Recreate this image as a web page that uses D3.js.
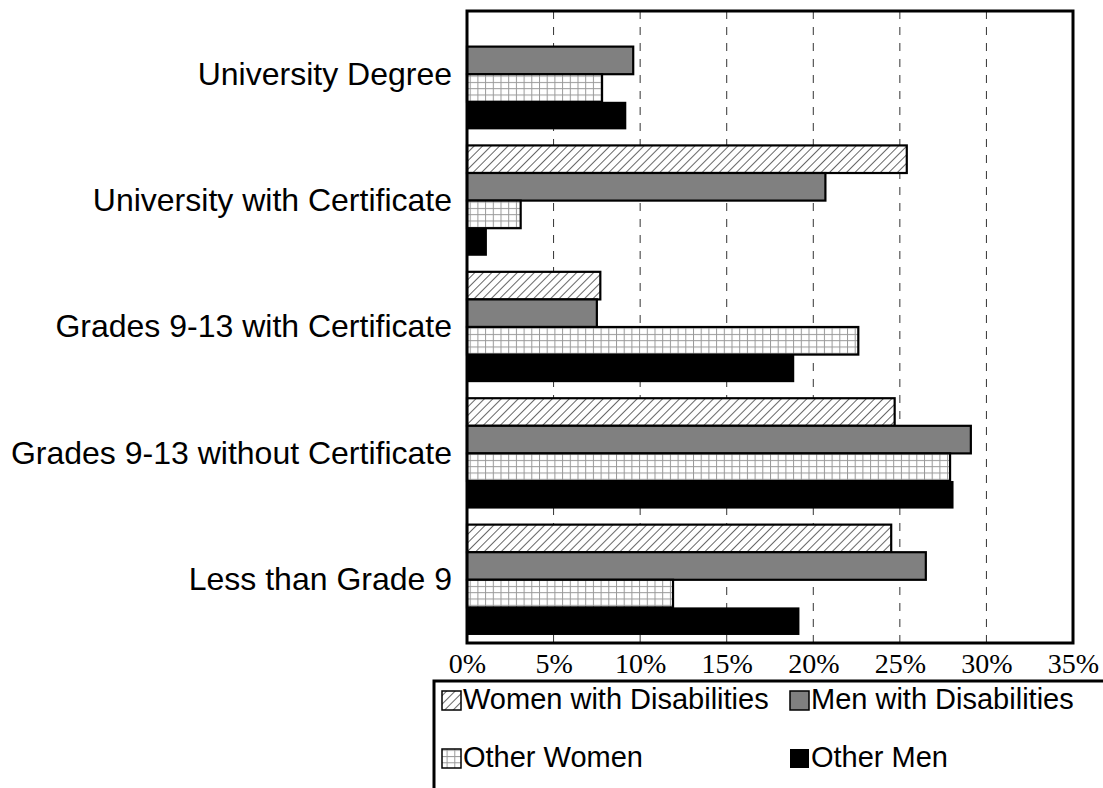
<!DOCTYPE html>
<html><head><meta charset="utf-8">
<script src="https://cdn.jsdelivr.net/npm/d3@7"></script>
<style>body{margin:0;background:#fff}svg{display:block}</style>
</head><body>
<script>
const categories = ["University Degree","University with Certificate","Grades 9-13 with Certificate","Grades 9-13 without Certificate","Less than Grade 9"];
const seriesNames = ["Women with Disabilities","Men with Disabilities","Other Women","Other Men"];
const womenDis = [0, 25.4, 7.7, 24.7, 24.5];
const menDis   = [9.6, 20.7, 7.5, 29.1, 26.5];
const otherWomen = [7.8, 3.1, 22.6, 27.9, 11.9];
const otherMen   = [9.2, 1.15, 18.9, 28.1, 19.2];
const xTicks = [0,5,10,15,20,25,30,35];
const seriesValues = [womenDis, menDis, otherWomen, otherMen];

const W = 1103, H = 788;
const svg = d3.select("body").append("svg").attr("width", W).attr("height", H);
const defs = svg.append("defs");
const hp = defs.append("pattern").attr("id","hatch").attr("patternUnits","userSpaceOnUse").attr("width",6).attr("height",6).attr("patternTransform","rotate(45)");
hp.append("rect").attr("width",6).attr("height",6).attr("fill","#fff");
hp.append("line").attr("x1",0).attr("y1",0).attr("x2",0).attr("y2",6).attr("stroke","#000").attr("stroke-width",1.2);
const cp = defs.append("pattern").attr("id","cross").attr("patternUnits","userSpaceOnUse").attr("width",7.7).attr("height",6.3);
cp.append("rect").attr("width",7.7).attr("height",6.3).attr("fill","#fff");
cp.append("line").attr("x1",0.5).attr("y1",0).attr("x2",0.5).attr("y2",6.3).attr("stroke","#999").attr("stroke-width",1);
cp.append("line").attr("x1",0).attr("y1",0.5).attr("x2",7.7).attr("y2",0.5).attr("stroke","#999").attr("stroke-width",1);

const fills = ["url(#hatch)","#808080","url(#cross)","#000"];
const strokeW = [2.2,2.2,2.2,0];

const L = 467, R = 1073, T = 11, B = 643;
const x = d3.scaleLinear().domain([0,35]).range([L,R]);
const y0 = d3.scaleBand().domain(categories).range([T,B]).paddingInner(0.127).paddingOuter(0.0635);
const y1 = d3.scaleBand().domain(seriesNames).range([0,y0.bandwidth()]);

// grid
svg.append("g").selectAll("line").data(xTicks.filter(t=>t>0&&t<35)).join("line")
  .attr("x1",d=>x(d)).attr("x2",d=>x(d)).attr("y1",T).attr("y2",B)
  .attr("stroke","#333").attr("stroke-width",1).attr("stroke-dasharray","8,8");

// bars
const g = svg.append("g");
categories.forEach((c,ci)=>{
  seriesNames.forEach((s,si)=>{
    const v = seriesValues[si][ci];
    if (v<=0) return;
    g.append("rect").attr("x",x(0)).attr("y",y0(c)+y1(s))
      .attr("width",x(v)-x(0)).attr("height",y1.bandwidth())
      .attr("fill",fills[si]).attr("stroke","#000").attr("stroke-width",strokeW[si]);
  });
});

// frame
svg.append("rect").attr("x",L).attr("y",T).attr("width",R-L).attr("height",B-T)
  .attr("fill","none").attr("stroke","#000").attr("stroke-width",3);

// category labels
svg.append("g").selectAll("text").data(categories).join("text")
  .attr("x",452).attr("y",d=>y0(d)+y0.bandwidth()/2+2).attr("text-anchor","end")
  .attr("dominant-baseline","middle").attr("font-family","Liberation Sans, Arial, sans-serif")
  .attr("font-size",32).text(d=>d);

// x axis labels
const xa = d3.axisBottom(x).tickValues(xTicks).tickFormat(d=>d+"%").tickSize(0).tickPadding(0);
const ax = svg.append("g").attr("transform",`translate(0,${B})`).call(xa);
ax.select(".domain").remove();
ax.selectAll("text").attr("font-family","Liberation Serif, Times New Roman, serif").attr("font-size",28)
  .attr("fill","#000").attr("dy",null).attr("y",24).attr("dominant-baseline","middle");

// legend
const lg = svg.append("g");
lg.append("rect").attr("x",434).attr("y",681).attr("width",700).attr("height",150)
  .attr("fill","#fff").attr("stroke","#000").attr("stroke-width",3);
const lpos = [[442,700],[790,700],[442,758],[790,758]];
seriesNames.forEach((s,i)=>{
  const [lx,ly] = lpos[i];
  lg.append("rect").attr("x",lx).attr("y",ly-9).attr("width",19).attr("height",19)
    .attr("fill",fills[i]).attr("stroke","#000").attr("stroke-width",i===3?0:1.5);
  lg.append("text").attr("x",lx+21).attr("y",ly+1).attr("dominant-baseline","middle")
    .attr("font-family","Liberation Sans, Arial, sans-serif").attr("font-size",29).text(s);
});
</script>
</body></html>
